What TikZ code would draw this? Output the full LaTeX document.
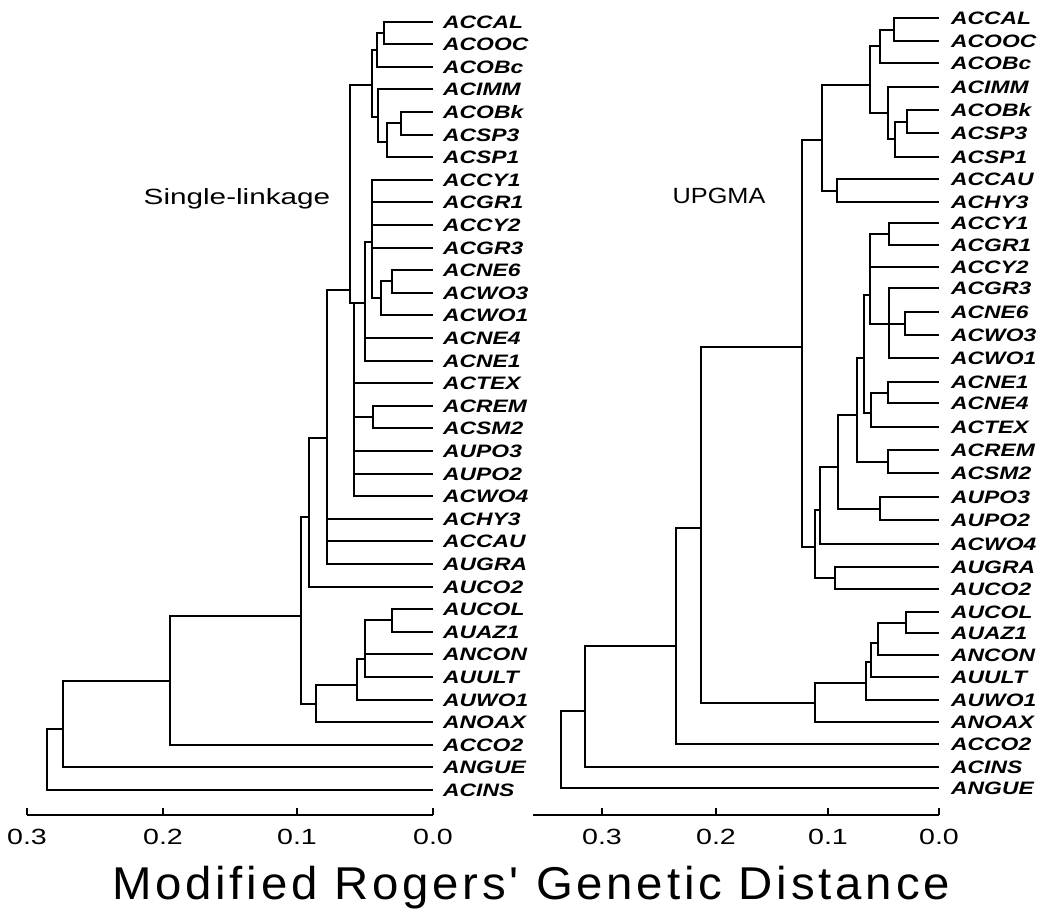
\documentclass[tikz,border=0pt]{standalone}
\usepackage{fontspec}
\setmainfont{Liberation Sans}
\newfontfamily\titlefont{Liberation Sans}[LetterSpace=8]
\usepackage{graphicx}
\newcommand\lf[1]{\scalebox{1.27}[1]{#1}}
\newcommand\tf[1]{\scalebox{1.3}[1]{#1}}
\begin{document}
\begin{tikzpicture}[x=1pt,y=-1pt,
  tree/.style={line width=2pt},
  axisline/.style={line width=2pt},
  leafL/.style={anchor=west, inner xsep=10pt, inner ysep=0pt, text height=13pt, text depth=0pt,
     font=\fontsize{18}{18}\selectfont\bfseries\itshape},
  leafR/.style={leafL, inner xsep=12pt},
  ticklab/.style={inner sep=0pt, anchor=base, font=\fontsize{22}{22}\selectfont},
  methodlab/.style={inner sep=0pt, font=\fontsize{22}{22}\selectfont},
  titlelab/.style={inner sep=0pt, anchor=base, font=\fontsize{46}{46}\selectfont\titlefont}]
\useasboundingbox (0,0) rectangle (1056,911);

% ---------- left tree leaves ----------
\foreach \n [count=\i] in {ACCAL,ACOOC,ACOBc,ACIMM,ACOBk,ACSP3,ACSP1,ACCY1,ACGR1,ACCY2,ACGR3,ACNE6,ACWO3,ACWO1,ACNE4,ACNE1,ACTEX,ACREM,ACSM2,AUPO3,AUPO2,ACWO4,ACHY3,ACCAU,AUGRA,AUCO2,AUCOL,AUAZ1,ANCON,AUULT,AUWO1,ANOAX,ACCO2,ANGUE,ACINS}
  \node[leafL] (L-\n) at (433,{round(21.5+22.6*(\i-1))}) {\lf{\n}};

% ---------- left internal nodes ----------
\coordinate (a1) at (384,33);
\coordinate (a2) at (377,50);
\coordinate (a3) at (401,123);
\coordinate (a4) at (387,142);
\coordinate (a5) at (378,117);
\coordinate (a6) at (372,85);
\coordinate (b1) at (392,281);
\coordinate (b2) at (381,298);
\coordinate (b0) at (372,242);
\coordinate (b3) at (365,303);
\coordinate (b4) at (373,417);
\coordinate (Q) at (354,303);
\coordinate (P) at (350,290);
\coordinate (n78) at (327,438);
\coordinate (n92) at (309,517);
\coordinate (c1) at (392,620);
\coordinate (c2) at (365,659);
\coordinate (c3) at (357,685);
\coordinate (c4) at (316,704);
\coordinate (n98) at (301,616);
\coordinate (n194) at (170,681);
\coordinate (n274) at (63,729);
\coordinate (root) at (47,760);

\foreach \p/\c in {a1/L-ACCAL.west, a1/L-ACOOC.west, a2/a1, a2/L-ACOBc.west,
  a3/L-ACOBk.west, a3/L-ACSP3.west, a4/a3, a4/L-ACSP1.west, a5/L-ACIMM.west, a5/a4,
  a6/a2, a6/a5,
  b1/L-ACNE6.west, b1/L-ACWO3.west, b2/b1, b2/L-ACWO1.west,
  b0/L-ACCY1.west, b0/L-ACGR1.west, b0/L-ACCY2.west, b0/L-ACGR3.west, b0/b2,
  b3/b0, b3/L-ACNE4.west, b3/L-ACNE1.west,
  b4/L-ACREM.west, b4/L-ACSM2.west,
  Q/b3, Q/L-ACTEX.west, Q/b4, Q/L-AUPO3.west, Q/L-AUPO2.west, Q/L-ACWO4.west,
  P/a6, P/Q,
  n78/P, n78/L-ACHY3.west, n78/L-ACCAU.west, n78/L-AUGRA.west,
  n92/n78, n92/L-AUCO2.west,
  c1/L-AUCOL.west, c1/L-AUAZ1.west, c2/c1, c2/L-ANCON.west, c2/L-AUULT.west,
  c3/c2, c3/L-AUWO1.west, c4/c3, c4/L-ANOAX.west,
  n98/n92, n98/c4, n194/n98, n194/L-ACCO2.west,
  n274/n194, n274/L-ANGUE.west, root/n274, root/L-ACINS.west}
  \draw[tree] (\p) |- (\c);

% ---------- right tree leaves ----------
\foreach \n/\y in {ACCAL/18,ACOOC/41,ACOBc/63,ACIMM/87,ACOBk/110,ACSP3/133,ACSP1/157,ACCAU/179,ACHY3/202,ACCY1/223,ACGR1/245,ACCY2/267,ACGR3/288,ACNE6/312,ACWO3/335,ACWO1/358,ACNE1/382,ACNE4/403,ACTEX/427,ACREM/450,ACSM2/473,AUPO3/497,AUPO2/520,ACWO4/544,AUGRA/567,AUCO2/589,AUCOL/612,AUAZ1/633,ANCON/655,AUULT/677,AUWO1/700,ANOAX/722,ACCO2/744,ACINS/767,ANGUE/788}
  \node[leafR] (R-\n) at (939,\y) {\lf{\n}};

\coordinate (r1) at (894,30);
\coordinate (r2) at (880,46);
\coordinate (r3) at (907,122);
\coordinate (r4) at (895,139);
\coordinate (r5) at (888,113);
\coordinate (r6) at (870,85);
\coordinate (r7) at (837,191);
\coordinate (r8) at (822,140);
\coordinate (r9) at (889,234);
\coordinate (r10) at (905,324);
\coordinate (r11) at (889,324);
\coordinate (r12) at (870,295);
\coordinate (r13) at (888,393);
\coordinate (r14) at (871,413);
\coordinate (r15) at (864,358);
\coordinate (r16) at (888,462);
\coordinate (r17) at (857,415);
\coordinate (r18) at (880,509);
\coordinate (r19) at (838,467);
\coordinate (r20) at (820,510);
\coordinate (r21) at (835,578);
\coordinate (r22) at (815,547);
\coordinate (r23) at (802,347);
\coordinate (r24) at (906,623);
\coordinate (r25) at (878,643);
\coordinate (r26) at (871,662);
\coordinate (r27) at (866,683);
\coordinate (r28) at (815,703);
\coordinate (r29) at (701,528);
\coordinate (r30) at (676,646);
\coordinate (r31) at (585,711);
\coordinate (r32) at (561,750);

\foreach \p/\c in {r1/R-ACCAL.west, r1/R-ACOOC.west, r2/r1, r2/R-ACOBc.west,
  r3/R-ACOBk.west, r3/R-ACSP3.west, r4/r3, r4/R-ACSP1.west, r5/R-ACIMM.west, r5/r4,
  r6/r2, r6/r5, r7/R-ACCAU.west, r7/R-ACHY3.west, r8/r6, r8/r7,
  r9/R-ACCY1.west, r9/R-ACGR1.west, r10/R-ACNE6.west, r10/R-ACWO3.west,
  r11/R-ACGR3.west, r11/r10, r11/R-ACWO1.west,
  r12/r9, r12/R-ACCY2.west, r12/r11,
  r13/R-ACNE1.west, r13/R-ACNE4.west, r14/r13, r14/R-ACTEX.west,
  r15/r12, r15/r14, r16/R-ACREM.west, r16/R-ACSM2.west, r17/r15, r17/r16,
  r18/R-AUPO3.west, r18/R-AUPO2.west, r19/r17, r19/r18, r20/r19, r20/R-ACWO4.west,
  r21/R-AUGRA.west, r21/R-AUCO2.west, r22/r20, r22/r21, r23/r8, r23/r22,
  r24/R-AUCOL.west, r24/R-AUAZ1.west, r25/r24, r25/R-ANCON.west,
  r26/r25, r26/R-AUULT.west, r27/r26, r27/R-AUWO1.west, r28/r27, r28/R-ANOAX.west,
  r29/r23, r29/r28, r30/r29, r30/R-ACCO2.west, r31/r30, r31/R-ACINS.west,
  r32/r31, r32/R-ANGUE.west}
  \draw[tree] (\p) |- (\c);

% ---------- axes ----------
\draw[axisline] (27,815) -- (433,815);
\foreach \x in {27,163,297,433} \draw[axisline] (\x,815) -- (\x,808);
\draw[axisline] (533,815) -- (939,815);
\foreach \x in {602,716,828,939} \draw[axisline] (\x,815) -- (\x,808);

\node[ticklab] (tl3) at (27,844) {\tf{0.3}};
\node[ticklab] (tl2) at (163,844) {\tf{0.2}};
\node[ticklab] (tl1) at (297,844) {\tf{0.1}};
\node[ticklab] (tl0) at (433,844) {\tf{0.0}};
\node[ticklab] (tr3) at (602,844) {\tf{0.3}};
\node[ticklab] (tr2) at (716,844) {\tf{0.2}};
\node[ticklab] (tr1) at (828,844) {\tf{0.1}};
\node[ticklab] (tr0) at (939,844) {\tf{0.0}};

\node[methodlab] (single) at (237,199) {\scalebox{1.35}[1]{Single-linkage}};
\node[methodlab] (upgma) at (719,196) {\scalebox{1.15}[1]{UPGMA}};
\node[titlelab] (title) at (531,899) {\scalebox{1.03}[1]{Modified Rogers' Genetic Distance}};
\end{tikzpicture}
\end{document}
